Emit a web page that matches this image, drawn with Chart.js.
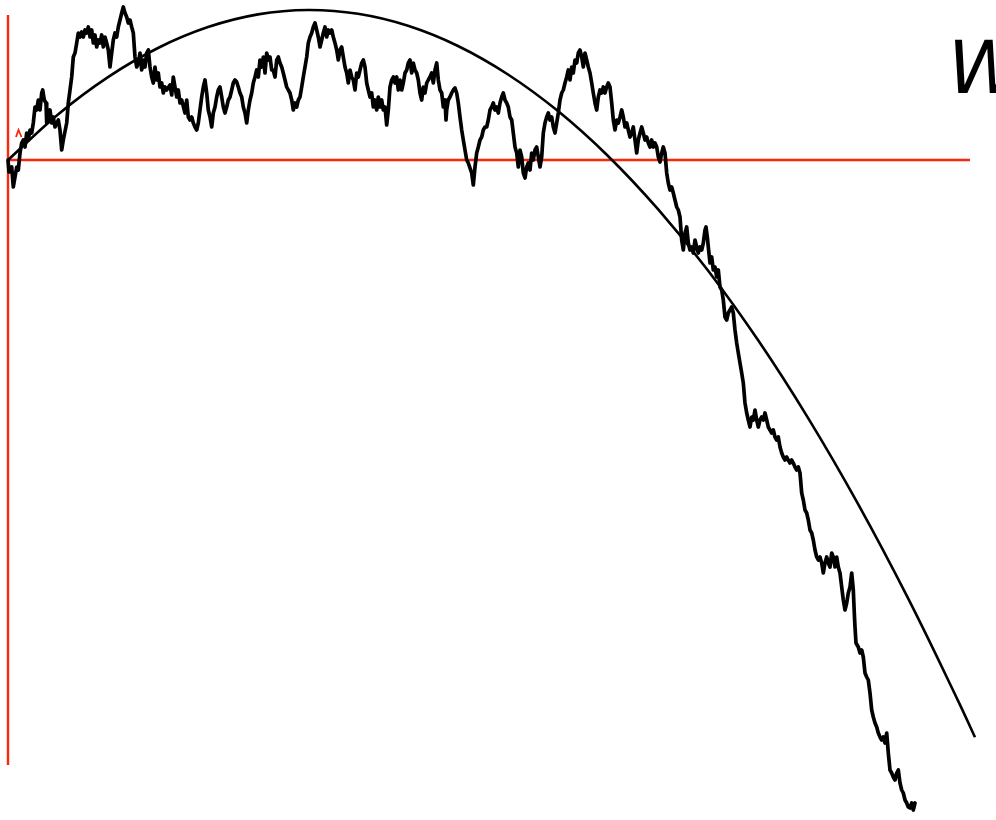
<!DOCTYPE html>
<html>
<head>
<meta charset="utf-8">
<script src="https://cdn.jsdelivr.net/npm/chart.js@4/dist/chart.umd.min.js"></script>
<style>
  html, body { margin: 0; padding: 0; background: #ffffff; }
  #wrap { width: 996px; height: 820px; }
</style>
</head>
<body>
<div id="wrap"><canvas id="c" width="996" height="820"></canvas></div>
<script>
// Sample path W(t): observation times and values
const pathT = [
  0, 0.01, 0.037, 0.053, 0.07, 0.087, 0.103, 0.12, 0.137, 0.153, 0.17, 0.187, 0.203, 0.22, 0.237, 0.253, 0.27, 0.287, 0.303, 0.32,
  0.337, 0.347, 0.363, 0.38, 0.387, 0.403, 0.42, 0.437, 0.453, 0.47, 0.503, 0.52, 0.537, 0.553, 0.587, 0.603, 0.62, 0.637, 0.653, 0.67,
  0.687, 0.703, 0.72, 0.737, 0.753, 0.77, 0.787, 0.803, 0.82, 0.837, 0.853, 0.87, 0.887, 0.903, 0.92, 0.937, 0.953, 0.97, 0.987, 1.003,
  1.02, 1.037, 1.053, 1.07, 1.087, 1.103, 1.12, 1.137, 1.153, 1.17, 1.187, 1.203, 1.22, 1.237, 1.253, 1.27, 1.287, 1.303, 1.32, 1.337,
  1.353, 1.37, 1.387, 1.403, 1.42, 1.437, 1.453, 1.47, 1.487, 1.503, 1.52, 1.537, 1.553, 1.57, 1.587,
  1.62, 1.637, 1.653, 1.67, 1.687, 1.703, 1.72, 1.737, 1.77, 1.787, 1.803, 1.82, 1.837, 1.853, 1.87, 1.887, 1.903, 1.92, 1.937, 1.953,
  1.97, 1.987, 2.003, 2.02, 2.037, 2.053, 2.07, 2.087, 2.103, 2.12, 2.137, 2.153, 2.17, 2.187, 2.203, 2.22, 2.237, 2.253, 2.27, 2.287,
  2.303, 2.32, 2.337, 2.353, 2.37, 2.387, 2.403, 2.42, 2.437, 2.453, 2.47, 2.487, 2.503, 2.52, 2.537, 2.553, 2.57, 2.587, 2.603, 2.62,
  2.637, 2.653, 2.67, 2.687, 2.703, 2.72, 2.737, 2.753, 2.77, 2.787, 2.803, 2.82, 2.837, 2.853, 2.87, 2.887, 2.903, 2.92, 2.937, 2.953,
  2.97, 2.987, 3.003, 3.02, 3.037, 3.053, 3.07, 3.087, 3.103, 3.12, 3.137, 3.153, 3.17, 3.187, 3.203, 3.22, 3.237, 3.253, 3.27, 3.287, 3.303,
  3.32, 3.337, 3.353, 3.37, 3.387, 3.403, 3.42, 3.437, 3.453, 3.47, 3.487, 3.503, 3.52, 3.537, 3.553, 3.57, 3.587, 3.603, 3.62, 3.637,
  3.653, 3.67, 3.687, 3.703, 3.72, 3.737, 3.753, 3.77, 3.787, 3.803, 3.82, 3.837, 3.853, 3.87, 3.887, 3.903, 3.92, 3.937, 3.953, 3.97,
  3.987, 4.003, 4.02, 4.037, 4.053, 4.07, 4.087, 4.103, 4.12, 4.137, 4.153, 4.17, 4.187, 4.203, 4.22, 4.237, 4.253, 4.27, 4.287, 4.303,
  4.32, 4.337, 4.353, 4.37, 4.38, 4.387, 4.403, 4.42, 4.437, 4.453, 4.47, 4.487, 4.503, 4.52, 4.537, 4.553, 4.57, 4.587, 4.603, 4.62,
  4.637, 4.653, 4.67, 4.687, 4.703, 4.72, 4.737, 4.753, 4.77, 4.787, 4.803, 4.82, 4.837, 4.853, 4.87, 4.887, 4.903, 4.92, 4.937, 4.953,
  4.97, 4.987, 5.003, 5.02, 5.037, 5.053, 5.07, 5.087, 5.103, 5.12, 5.137, 5.153, 5.17, 5.187, 5.203, 5.22, 5.237, 5.253, 5.27, 5.287,
  5.303, 5.32, 5.337, 5.353, 5.37, 5.387, 5.403, 5.42, 5.437, 5.453, 5.47, 5.487, 5.503, 5.52, 5.537, 5.553, 5.57, 5.587, 5.603, 5.62,
  5.637, 5.653, 5.67, 5.687, 5.703, 5.72, 5.737, 5.753, 5.77, 5.787, 5.803, 5.82, 5.837, 5.853, 5.87, 5.887, 5.903, 5.92, 5.937, 5.953,
  5.97, 5.987, 6.003, 6.02, 6.037, 6.053, 6.07, 6.087, 6.103, 6.12, 6.137, 6.153, 6.17, 6.187, 6.203, 6.22, 6.237, 6.253, 6.27, 6.287,
  6.303, 6.32, 6.337, 6.353, 6.37, 6.387, 6.403, 6.42, 6.437, 6.453, 6.47, 6.487, 6.503, 6.52, 6.537, 6.553, 6.57, 6.587, 6.603, 6.62,
  6.637, 6.653, 6.67, 6.687, 6.703, 6.72,
  6.737, 6.753, 6.77, 6.787, 6.803, 6.82, 6.837, 6.853, 6.87, 6.887, 6.903, 6.92, 6.937, 6.953, 6.97, 6.98, 6.993, 7.003, 7.02, 7.037,
  7.053, 7.07, 7.087, 7.103, 7.12, 7.137, 7.153, 7.17, 7.187, 7.203, 7.22, 7.237, 7.253, 7.27, 7.287, 7.303, 7.32, 7.337, 7.353, 7.37,
  7.387, 7.403, 7.42, 7.437, 7.453, 7.47, 7.487, 7.503, 7.52, 7.537, 7.553, 7.57, 7.587, 7.603, 7.62, 7.637, 7.653, 7.67, 7.687, 7.703,
  7.72, 7.737, 7.753, 7.77, 7.787, 7.803, 7.82, 7.837, 7.853, 7.87, 7.887, 7.903, 7.92, 7.937, 7.953, 7.97, 7.987, 8.003, 8.02, 8.037,
  8.053, 8.07, 8.087, 8.103, 8.12, 8.137, 8.153, 8.17, 8.187, 8.203, 8.22,
  8.237, 8.253, 8.27, 8.287, 8.303, 8.32, 8.337, 8.353, 8.37, 8.387, 8.403, 8.42, 8.437, 8.453, 8.463, 8.47, 8.48, 8.503, 8.52, 8.537,
  8.553, 8.57, 8.587, 8.603, 8.62, 8.637, 8.653, 8.67, 8.687, 8.703, 8.72, 8.737, 8.753, 8.77, 8.787, 8.803, 8.82, 8.837, 8.853, 8.87,
  8.887, 8.903, 8.92, 8.937, 8.953, 8.97, 8.987, 9.003, 9.02, 9.037, 9.053, 9.07
];
const pathW = [
  0, -0.12, -0.07, -0.27, -0.17, -0.07, -0.10, 0.07, 0.17, 0.20, 0.13, 0.27, 0.20, 0.30, 0.27, 0.37, 0.53, 0.50, 0.60, 0.50,
  0.67, 0.70, 0.60, 0.57, 0.37, 0.43, 0.50, 0.37, 0.43, 0.33, 0.40, 0.30, 0.10, 0.20, 0.37, 0.57, 0.70, 0.83, 1.03, 1.07,
  1.17, 1.27, 1.23, 1.28, 1.23, 1.30, 1.27, 1.33, 1.23, 1.30, 1.17, 1.25, 1.13, 1.20, 1.17, 1.25, 1.13, 1.23, 1.17, 1.10,
  0.93, 1.07, 1.20, 1.27, 1.23, 1.33, 1.40, 1.47, 1.53, 1.47, 1.43, 1.37, 1.40, 1.33, 1.27, 1.03, 0.93, 0.97, 1.07, 0.90,
  1.00, 0.93, 1.07, 1.10, 0.93, 0.83, 0.77, 0.93, 0.80, 0.87, 0.73, 0.77, 0.67, 0.73, 0.70,
  0.75, 0.65, 0.83, 0.73, 0.63, 0.70, 0.57, 0.60, 0.47, 0.60, 0.43, 0.40, 0.43, 0.37, 0.33, 0.30, 0.37, 0.50, 0.63, 0.73,
  0.80, 0.67, 0.50, 0.43, 0.33, 0.47, 0.53, 0.63, 0.70, 0.73, 0.63, 0.53, 0.47, 0.53, 0.60, 0.63, 0.70, 0.77, 0.80, 0.78,
  0.73, 0.67, 0.63, 0.53, 0.47, 0.37, 0.50, 0.60, 0.67, 0.77, 0.83, 0.90, 0.83, 1.00, 0.93, 1.03, 0.87, 1.07, 1.00, 1.03,
  0.90, 0.90, 0.83, 1.00, 1.03, 0.97, 0.93, 0.87, 0.80, 0.73, 0.70, 0.67, 0.60, 0.50, 0.57, 0.53, 0.60, 0.63, 0.73, 0.83,
  0.93, 1.03, 1.17, 1.23, 1.27, 1.33, 1.37, 1.30, 1.23, 1.13, 1.20, 1.27, 1.33, 1.23, 1.30, 1.27, 1.30, 1.23, 1.17, 1.10, 1.00,
  1.10, 1.13, 1.03, 0.93, 0.87, 0.77, 0.90, 0.83, 0.80, 0.70, 0.87, 0.83, 0.90, 0.97, 1.00, 0.93, 0.77, 0.70, 0.63, 0.67,
  0.53, 0.60, 0.50, 0.63, 0.53, 0.60, 0.50, 0.53, 0.35, 0.50, 0.73, 0.80, 0.83, 0.77, 0.83, 0.70, 0.80, 0.70, 0.77, 0.87,
  0.90, 0.97, 1.00, 0.87, 0.97, 0.90, 0.87, 0.80, 0.67, 0.60, 0.73, 0.67, 0.77, 0.80, 0.83, 0.87, 0.77, 0.90, 0.97, 0.80,
  0.70, 0.67, 0.53, 0.60, 0.40, 0.50, 0.60, 0.63, 0.67, 0.70, 0.72, 0.67, 0.57, 0.43, 0.30, 0.20, 0.10, 0.00, -0.03, -0.08,
  -0.13, -0.25, -0.07, 0.07, 0.13, 0.20, 0.23, 0.30, 0.33, 0.33, 0.40, 0.50, 0.53, 0.57, 0.50, 0.53, 0.47, 0.57, 0.63, 0.67,
  0.60, 0.57, 0.53, 0.43, 0.40, 0.27, 0.13, 0.07, -0.07, 0.10, 0.03, -0.13, -0.18, -0.07, -0.03, -0.10, 0.07, 0.00, 0.10, 0.13,
  0.03, -0.07, 0.03, 0.27, 0.37, 0.43, 0.47, 0.40, 0.43, 0.33, 0.27, 0.37, 0.47, 0.60, 0.67, 0.70, 0.77, 0.83, 0.90, 0.80,
  0.93, 0.87, 1.00, 0.97, 1.07, 1.10, 1.03, 0.93, 1.07, 1.00, 0.93, 0.87, 0.77, 0.67, 0.57, 0.50, 0.63, 0.70, 0.67, 0.73,
  0.67, 0.73, 0.77, 0.73, 0.57, 0.40, 0.30, 0.40, 0.37, 0.43, 0.50, 0.43, 0.33, 0.37, 0.30, 0.23, 0.27, 0.33, 0.20, 0.07,
  0.20, 0.27, 0.33, 0.27, 0.20, 0.23, 0.17, 0.13, 0.20, 0.13, 0.17, 0.13, 0.03, -0.02, 0.07, 0.13, 0.07, -0.13, -0.23, -0.30,
  -0.27, -0.33, -0.40, -0.47, -0.50, -0.57,
  -0.80, -0.90, -0.73, -0.67, -0.83, -0.90, -0.87, -0.93, -0.80, -0.87, -0.93, -0.87, -0.90, -0.83, -0.70, -0.67, -0.77, -0.87, -1.03, -0.97,
  -1.10, -1.07, -1.17, -1.10, -1.27, -1.30, -1.40, -1.57, -1.60, -1.53, -1.50, -1.47, -1.53, -1.70, -1.83, -1.93, -2.03, -2.13, -2.23, -2.43,
  -2.53, -2.60, -2.67, -2.57, -2.60, -2.50, -2.60, -2.67, -2.60, -2.57, -2.60, -2.53, -2.60, -2.67, -2.70, -2.73, -2.70, -2.77, -2.80, -2.77,
  -2.87, -2.93, -2.97, -3.00, -2.97, -3.00, -3.03, -3.00, -3.03, -3.07, -3.10, -3.07, -3.13, -3.33, -3.40, -3.50, -3.53, -3.60, -3.70, -3.73,
  -3.80, -3.90, -3.97, -4.00, -3.97, -4.03, -4.13, -4.03, -3.97, -4.03, -4.07,
  -3.93, -3.97, -4.07, -3.97, -4.07, -4.13, -4.27, -4.40, -4.50, -4.43, -4.33, -4.27, -4.13, -4.30, -4.53, -4.67, -4.83, -4.87, -4.93, -4.90,
  -4.97, -5.13, -5.17, -5.20, -5.33, -5.50, -5.57, -5.63, -5.67, -5.73, -5.77, -5.80, -5.77, -5.83, -5.73, -5.93, -6.10, -6.13, -6.17, -6.20,
  -6.13, -6.10, -6.23, -6.30, -6.33, -6.40, -6.43, -6.47, -6.48, -6.43, -6.50, -6.43
];

// Parabolic envelope curve
const curveT = [0, 0.5, 1, 1.5, 2, 2.5, 3, 3.5, 4, 4.5, 5, 5.5, 6, 6.5, 7, 7.5, 8, 8.5, 9, 9.5, 9.67];
const curveW = [0, 0.456, 0.829, 1.120, 1.329, 1.456, 1.500, 1.462, 1.342, 1.140, 0.855, 0.489, 0.040, -0.492, -1.105, -1.801, -2.579, -3.439, -4.382, -5.406, -5.773];

// Coordinate axes (red) and the small arrow mark
const axisHT = [0, 9.62];
const axisHW = [0, 0];
const axisVT = [0, 0];
const axisVW = [1.45, -6.05];
const arrowT = [0.08, 0.105, 0.135];
const arrowW = [0.23, 0.30, 0.23];

const toPts = (xs, ys) => xs.map((x, i) => ({ x: x, y: ys[i] }));

const RED = 'rgb(250, 38, 14)';

// Labels drawn on top of the plot
const labelPlugin = {
  id: 'labels',
  afterDatasetsDraw(chart) {
    const ctx = chart.ctx;
    ctx.save();
    ctx.fillStyle = '#000000';
    ctx.textBaseline = 'alphabetic';
    ctx.font = 'oblique 73px "DejaVu Sans"';
    ctx.fillText('W', 948, 93);
    ctx.font = 'oblique 22px "DejaVu Sans"';
    ctx.fillText('t', 994.5, 818);
    ctx.restore();
  }
};

new Chart(document.getElementById('c'), {
  type: 'scatter',
  data: {
    datasets: [
      { data: toPts(curveT, curveW), showLine: true, borderColor: '#000000', borderWidth: 2.6,
        pointRadius: 0, tension: 0.4, order: 1 },
      { data: toPts(pathT, pathW), showLine: true, borderColor: '#000000', borderWidth: 3.7,
        pointRadius: 0, tension: 0, borderJoinStyle: 'round', borderCapStyle: 'round', order: 2 },
      { data: toPts(axisHT, axisHW), showLine: true, borderColor: RED, borderWidth: 2.4,
        pointRadius: 0, order: 3 },
      { data: toPts(axisVT, axisVW), showLine: true, borderColor: RED, borderWidth: 2.4,
        pointRadius: 0, order: 3 },
      { data: toPts(arrowT, arrowW), showLine: true, borderColor: RED, borderWidth: 1.8,
        pointRadius: 0, order: 3 }
    ]
  },
  options: {
    responsive: false,
    animation: false,
    layout: { padding: 0 },
    plugins: { legend: { display: false }, tooltip: { enabled: false } },
    scales: {
      x: { type: 'linear', min: -0.08, max: 9.88, display: false },
      y: { type: 'linear', min: -6.6, max: 1.6, display: false }
    }
  },
  plugins: [labelPlugin]
});
</script>
</body>
</html>
